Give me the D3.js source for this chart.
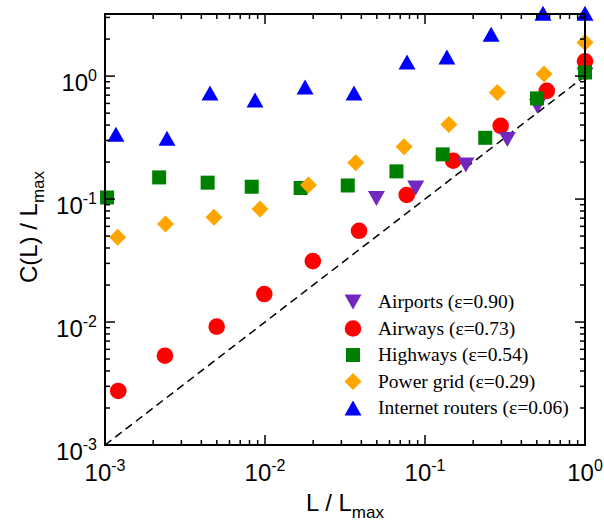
<!DOCTYPE html>
<html>
<head>
<meta charset="utf-8">
<script src="https://cdn.jsdelivr.net/npm/d3@7"></script>
<style>
  body { margin: 0; background: #fff; }
</style>
</head>
<body>
<svg></svg>
<script>
const width = 604
const height = 524

// series (L / Lmax, C(L) / Lmax)
const airportsL = [0.0497, 0.0875, 0.18, 0.327, 0.504, 1.0]
const airportsC = [0.101, 0.123, 0.189, 0.305, 0.57, 1.02]

const airwaysL = [0.00121, 0.00237, 0.00499, 0.0099, 0.0199, 0.0387, 0.0769, 0.15, 0.297, 0.577, 1.0]
const airwaysC = [0.00275, 0.00532, 0.00917, 0.0169, 0.0313, 0.0552, 0.108, 0.205, 0.394, 0.758, 1.32]

const highwaysL = [0.00103, 0.00218, 0.00438, 0.00826, 0.0167, 0.0329, 0.0663, 0.129, 0.238, 0.501, 1.0]
const highwaysC = [0.103, 0.15, 0.136, 0.126, 0.123, 0.129, 0.168, 0.231, 0.315, 0.659, 1.07]

const powerL = [0.0012, 0.00239, 0.0048, 0.0093, 0.0187, 0.0369, 0.074, 0.141, 0.283, 0.555, 1.0]
const powerC = [0.0489, 0.0627, 0.071, 0.083, 0.13, 0.197, 0.266, 0.405, 0.736, 1.04, 1.88]

const routersL = [0.00117, 0.00244, 0.00453, 0.00866, 0.0178, 0.036, 0.0772, 0.137, 0.259, 0.546, 1.0]
const routersC = [0.337, 0.313, 0.728, 0.638, 0.815, 0.728, 1.3, 1.43, 2.19, 3.25, 3.25]

const legendLabels = [
  'Airports (ε=0.90)',
  'Airways (ε=0.73)',
  'Highways (ε=0.54)',
  'Power grid (ε=0.29)',
  'Internet routers (ε=0.06)',
]
const tickExponents = [-3, -2, -1, 0]

const margin = { top: 14, right: 19, bottom: 79, left: 105 }

const svg = d3.select('svg').attr('width', width).attr('height', height)

const x = d3.scaleLog().domain([1e-3, 1]).range([margin.left, width - margin.right])
const y = d3.scaleLog().domain([1e-3, 3.2]).range([height - margin.bottom, margin.top])

// marker shapes
const tri = (up) => () => {
  const w = 8.5, h = 7.5
  return up
    ? `M0,${-h}L${w},${h}L${-w},${h}Z`
    : `M0,${h}L${w},${-h}L${-w},${-h}Z`
}
const shapes = {
  triDown: tri(false),
  circle: () => d3.symbol(d3.symbolCircle, Math.PI * 8.3 * 8.3)(),
  square: () => 'M-7,-7H7V7H-7Z',
  diamond: () => 'M0,-8.5L8.5,0L0,8.5L-8.5,0Z',
  triUp: tri(true),
}

const series = [
  { L: airwaysL, C: airwaysC, shape: 'circle', color: '#ff0000' },
  { L: airportsL, C: airportsC, shape: 'triDown', color: '#7228bf' },
  { L: highwaysL, C: highwaysC, shape: 'square', color: '#008000' },
  { L: powerL, C: powerC, shape: 'diamond', color: '#ffa500' },
  { L: routersL, C: routersC, shape: 'triUp', color: '#0000ff' },
]

// diagonal reference line C = L
svg
  .append('line')
  .attr('x1', x(1e-3))
  .attr('y1', y(1e-3))
  .attr('x2', x(1))
  .attr('y2', y(1))
  .attr('stroke', '#000')
  .attr('stroke-width', 1.5)
  .attr('stroke-dasharray', '8,5')

series.forEach((s) => {
  svg
    .append('g')
    .selectAll('path')
    .data(d3.zip(s.L, s.C))
    .join('path')
    .attr('transform', (d) => `translate(${x(d[0])},${y(d[1])})`)
    .attr('d', shapes[s.shape]())
    .attr('fill', s.color)
})

// axes: ticks pointing inward on all four sides
const minorTicks = (scale) => {
  const [a, b] = scale.domain()
  const out = []
  for (let e = Math.floor(Math.log10(a)); e <= Math.ceil(Math.log10(b)); e++) {
    for (let m = 1; m < 10; m++) {
      const v = m * Math.pow(10, e)
      if (v >= a * 0.999 && v <= b * 1.001) out.push(v)
    }
  }
  return out
}
const tickLen = (v) => (Math.abs(Math.log10(v) - Math.round(Math.log10(v))) < 1e-9 ? 10 : 5)

const x0 = x.range()[0], x1 = x.range()[1]
const y0 = y.range()[0], y1 = y.range()[1]
const axes = svg.append('g').attr('stroke', '#000')

minorTicks(x).forEach((v) => {
  const px = x(v), l = tickLen(v)
  axes.append('line').attr('x1', px).attr('x2', px).attr('y1', y0).attr('y2', y0 - l).attr('stroke-width', 1.5)
  axes.append('line').attr('x1', px).attr('x2', px).attr('y1', y1).attr('y2', y1 + l).attr('stroke-width', 1.5)
})
minorTicks(y).forEach((v) => {
  const py = y(v), l = tickLen(v)
  axes.append('line').attr('y1', py).attr('y2', py).attr('x1', x0).attr('x2', x0 + l).attr('stroke-width', 1.5)
  axes.append('line').attr('y1', py).attr('y2', py).attr('x1', x1).attr('x2', x1 - l).attr('stroke-width', 1.5)
})
axes
  .append('rect')
  .attr('x', x0)
  .attr('y', y1)
  .attr('width', x1 - x0)
  .attr('height', y0 - y1)
  .attr('fill', 'none')
  .attr('stroke-width', 2)

// tick labels
const font = 'Liberation Sans, Arial, sans-serif'
tickExponents.forEach((e) => {
  const v = Math.pow(10, e)
  const tx = svg
    .append('text')
    .attr('x', x(v))
    .attr('y', 481)
    .attr('text-anchor', 'middle')
    .attr('font-family', font)
    .attr('font-size', 24)
  tx.append('tspan').text('10')
  tx.append('tspan').attr('font-size', 16).attr('dy', -10).text(e)

  const ty = svg
    .append('text')
    .attr('x', x0 - 8)
    .attr('y', y(v) + 14.5)
    .attr('text-anchor', 'end')
    .attr('font-family', font)
    .attr('font-size', 24)
  ty.append('tspan').text('10')
  ty.append('tspan').attr('font-size', 16).attr('dy', -10).text(e)
})

// axis titles
const xt = svg
  .append('text')
  .attr('x', 345)
  .attr('y', 511)
  .attr('text-anchor', 'middle')
  .attr('font-family', font)
  .attr('font-size', 24)
xt.append('tspan').text('L / L')
xt.append('tspan').attr('font-size', 17).attr('dy', 7).text('max')

const yt = svg
  .append('text')
  .attr('transform', 'translate(37,227) rotate(-90)')
  .attr('text-anchor', 'middle')
  .attr('font-family', font)
  .attr('font-size', 24)
yt.append('tspan').text('C(L) / L')
yt.append('tspan').attr('font-size', 17).attr('dy', 7).text('max')

// legend
const legendOrder = ['triDown', 'circle', 'square', 'diamond', 'triUp']
const legendColors = ['#7228bf', '#ff0000', '#008000', '#ffa500', '#0000ff']
const legend = svg.append('g')
legendLabels.forEach((label, i) => {
  const ly = 302 + i * 26.5
  legend
    .append('path')
    .attr('transform', `translate(353,${ly})`)
    .attr('d', shapes[legendOrder[i]]())
    .attr('fill', legendColors[i])
  legend
    .append('text')
    .attr('x', 378)
    .attr('y', ly + 6)
    .attr('font-family', 'Liberation Serif, Times New Roman, serif')
    .attr('font-size', 19.5)
    .text(label)
})
</script>
</body>
</html>
